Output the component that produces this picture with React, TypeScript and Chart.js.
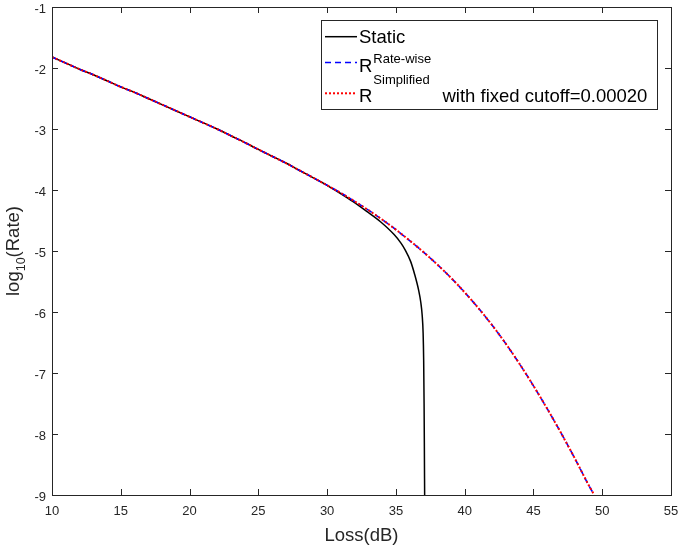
import React, { useEffect, useRef } from "react";
import { Chart, registerables } from "chart.js";

Chart.register(...registerables);

// Loss (dB) and log10(Rate) values
const lossRateWise = [10, 11, 12, 13, 14, 15, 16, 17, 18, 19, 20, 21, 22, 23, 24, 25, 26, 27, 28, 29, 30, 31, 32, 33, 34, 35, 36, 37, 38, 39, 40, 41, 42, 43, 44, 45, 46, 47, 48, 49, 49.42];
const rateRateWise = [-1.82, -1.92, -2.02, -2.11, -2.21, -2.31, -2.4, -2.5, -2.6, -2.7, -2.8, -2.9, -3.0, -3.11, -3.22, -3.335, -3.447, -3.558, -3.68, -3.80, -3.923, -4.049, -4.186, -4.33, -4.484, -4.65, -4.829, -5.017, -5.22, -5.438, -5.678, -5.937, -6.217, -6.523, -6.854, -7.21, -7.585, -7.981, -8.397, -8.832, -9.0];

const lossSimplified = [10, 11, 12, 13, 14, 15, 16, 17, 18, 19, 20, 21, 22, 23, 24, 25, 26, 27, 28, 29, 30, 31, 32, 33, 34, 35, 36, 37, 38, 39, 40, 41, 42, 43, 44, 45, 46, 47, 48, 49, 49.42];
const rateSimplified = [-1.82, -1.92, -2.02, -2.11, -2.21, -2.31, -2.4, -2.5, -2.6, -2.7, -2.8, -2.9, -3.0, -3.11, -3.22, -3.335, -3.447, -3.558, -3.68, -3.80, -3.923, -4.049, -4.186, -4.33, -4.484, -4.65, -4.829, -5.017, -5.22, -5.438, -5.678, -5.937, -6.217, -6.523, -6.854, -7.21, -7.585, -7.981, -8.397, -8.832, -9.0];

const lossStatic = [10, 11, 12, 13, 14, 15, 16, 17, 18, 19, 20, 21, 22, 23, 24, 25, 26, 27, 28, 29, 30, 30.89, 31.89, 32.88, 33.88, 34.87, 35.37, 35.67, 36.07, 36.36, 36.66, 36.81, 36.91, 36.98, 37.02, 37.05, 37.07, 37.09];
const rateStatic = [-1.82, -1.92, -2.02, -2.11, -2.21, -2.31, -2.4, -2.5, -2.6, -2.7, -2.8, -2.9, -3.0, -3.11, -3.22, -3.335, -3.447, -3.558, -3.68, -3.80, -3.923, -4.045, -4.19, -4.35, -4.52, -4.73, -4.87, -4.98, -5.17, -5.38, -5.65, -5.84, -6.05, -6.35, -6.8, -7.5, -8.2, -9.0];

const xTicks = [10, 15, 20, 25, 30, 35, 40, 45, 50, 55];
const yTicks = [-9, -8, -7, -6, -5, -4, -3, -2, -1];

const seriesNames = ["Static", "R", "R"];
const superscripts = ["", "Rate-wise", "Simplified"];
const legendSuffix = ["", "", "with fixed cutoff=0.00020"];

const AXIS = "#262626";
const FONT = "'Liberation Sans', Arial, sans-serif";

const toPoints = (xs: number[], ys: number[]) => xs.map((x, i) => ({ x, y: ys[i] }));

const framePlugin = {
  id: "matlabFrame",
  afterDraw(chart: any) {
    const ctx = chart.ctx as CanvasRenderingContext2D;
    const { left, right, top, bottom } = chart.chartArea;
    const xs = chart.scales.x;
    const ys = chart.scales.y;
    ctx.save();
    ctx.strokeStyle = AXIS;
    ctx.lineWidth = 1;
    ctx.strokeRect(Math.round(left) + 0.5, Math.round(top) + 0.5, Math.round(right - left), Math.round(bottom - top));
    const tl = 6;
    ctx.beginPath();
    xTicks.forEach((v) => {
      const px = Math.round(xs.getPixelForValue(v)) + 0.5;
      ctx.moveTo(px, bottom);
      ctx.lineTo(px, bottom - tl);
      ctx.moveTo(px, top);
      ctx.lineTo(px, top + tl);
    });
    yTicks.forEach((v) => {
      const py = Math.round(ys.getPixelForValue(v)) + 0.5;
      ctx.moveTo(left, py);
      ctx.lineTo(left + tl, py);
      ctx.moveTo(right, py);
      ctx.lineTo(right - tl, py);
    });
    ctx.stroke();

    ctx.fillStyle = AXIS;
    ctx.font = `13px ${FONT}`;
    ctx.textAlign = "center";
    ctx.textBaseline = "middle";
    xTicks.forEach((v) => {
      ctx.fillText(String(v), xs.getPixelForValue(v), bottom + 16.5);
    });
    ctx.textAlign = "right";
    yTicks.forEach((v) => {
      ctx.fillText(String(v), left - 6, ys.getPixelForValue(v) + 2);
    });

    ctx.font = `18.5px ${FONT}`;
    ctx.textAlign = "center";
    ctx.textBaseline = "alphabetic";
    ctx.fillText("Loss(dB)", 361.5, 541);

    ctx.save();
    const cy = (top + bottom) / 2;
    ctx.translate(18.5, cy);
    ctx.rotate(-Math.PI / 2);
    ctx.textAlign = "left";
    const big = `18.5px ${FONT}`;
    const small = `12.5px ${FONT}`;
    ctx.font = big;
    const w1 = ctx.measureText("log").width;
    const w3 = ctx.measureText("(Rate)").width;
    ctx.font = small;
    const w2 = ctx.measureText("10").width;
    let x0 = -(w1 + w2 + w3) / 2;
    ctx.font = big;
    ctx.fillText("log", x0, 0);
    x0 += w1;
    ctx.font = small;
    ctx.fillText("10", x0, 6);
    x0 += w2;
    ctx.font = big;
    ctx.fillText("(Rate)", x0, 0);
    ctx.restore();

    const bx = 321.5, by = 20.5, bw = 336, bh = 89;
    ctx.fillStyle = "#ffffff";
    ctx.fillRect(bx, by, bw, bh);
    ctx.strokeStyle = AXIS;
    ctx.lineWidth = 1;
    ctx.strokeRect(bx, by, bw, bh);

    const ds = chart.data.datasets;
    const lineYs = [36.7, 62.5, 93.3];
    const baseYs = [42.7, 71.7, 101.7];
    const supYs = [0, 62.7, 84];
    for (let i = 0; i < 3; i++) {
      const d = ds[i];
      ctx.save();
      ctx.strokeStyle = d.borderColor;
      ctx.lineWidth = d.borderWidth;
      ctx.setLineDash(d.borderDash || []);
      ctx.beginPath();
      ctx.moveTo(325, lineYs[i]);
      ctx.lineTo(357, lineYs[i]);
      ctx.stroke();
      ctx.restore();
      ctx.fillStyle = "#000";
      ctx.textAlign = "left";
      ctx.textBaseline = "alphabetic";
      ctx.font = `18.5px ${FONT}`;
      ctx.fillText(seriesNames[i], 359, baseYs[i]);
      const tx = 359 + ctx.measureText(seriesNames[i]).width;
      if (superscripts[i]) {
        ctx.font = `13px ${FONT}`;
        ctx.fillText(superscripts[i], tx + 1, supYs[i]);
      }
      if (legendSuffix[i]) {
        ctx.font = `18.5px ${FONT}`;
        ctx.fillText(legendSuffix[i], 442.5, baseYs[i]);
      }
    }
    ctx.restore();
  },
};

export default function App() {
  const ref = useRef<HTMLCanvasElement>(null);
  useEffect(() => {
    if (!ref.current) return;
    const chart = new Chart(ref.current, {
      type: "scatter",
      data: {
        datasets: [
          {
            label: "Static",
            data: toPoints(lossStatic, rateStatic),
            showLine: true,
            borderColor: "#000000",
            borderWidth: 1.5,
            pointRadius: 0,
            cubicInterpolationMode: "monotone",
            order: 3,
          },
          {
            label: "Rate-wise",
            data: toPoints(lossRateWise, rateRateWise),
            showLine: true,
            borderColor: "#0000ff",
            borderWidth: 1.6,
            borderDash: [6, 4],
            pointRadius: 0,
            cubicInterpolationMode: "monotone",
            order: 2,
          },
          {
            label: "Simplified",
            data: toPoints(lossSimplified, rateSimplified),
            showLine: true,
            borderColor: "#ff0000",
            borderWidth: 2,
            borderDash: [2, 2],
            pointRadius: 0,
            cubicInterpolationMode: "monotone",
            order: 1,
          },
        ] as any,
      },
      options: {
        responsive: false,
        animation: false,
        devicePixelRatio: 1,
        layout: { padding: { left: 0, top: 7, right: 13, bottom: 0 } },
        plugins: { legend: { display: false }, tooltip: { enabled: false } },
        scales: {
          x: {
            type: "linear",
            min: 10,
            max: 55,
            ticks: { stepSize: 5, display: false },
            grid: { display: false },
            border: { display: false },
            afterFit: (s: any) => {
              s.height = 52;
            },
          },
          y: {
            type: "linear",
            min: -9,
            max: -1,
            ticks: { stepSize: 1, display: false },
            grid: { display: false },
            border: { display: false },
            afterFit: (s: any) => {
              s.width = 52;
            },
          },
        },
      } as any,
      plugins: [framePlugin],
    });
    return () => chart.destroy();
  }, []);
  return (
    <div style={{ position: "fixed", left: 0, top: 0, width: 684, height: 547, background: "#fff" }}>
      <canvas ref={ref} width={684} height={547} style={{ display: "block" }} />
    </div>
  );
}
